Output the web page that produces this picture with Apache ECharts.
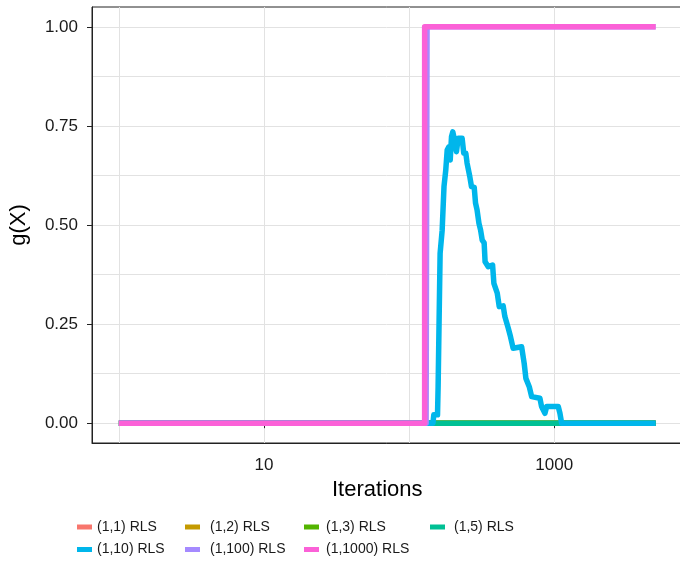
<!DOCTYPE html>
<html>
<head>
<meta charset="utf-8">
<script src="https://cdn.jsdelivr.net/npm/echarts@6/dist/echarts.min.js"></script>
<style>html,body{margin:0;padding:0;background:#fff}#c{width:680px;height:561px}</style>
</head>
<body>
<div id="c"></div>
<script>
// ---- data ----
const seriesNames = ['(1,1) RLS','(1,2) RLS','(1,3) RLS','(1,5) RLS','(1,10) RLS','(1,100) RLS','(1,1000) RLS'];
const seriesColors = ['#F8766D','#C49A00','#53B400','#00C094','#00B6EB','#A58AFF','#FB61D7'];

const x_1_1 = [1, 5000];           const y_1_1 = [0, 0];
const x_1_2 = [1, 5000];           const y_1_2 = [0, 0];
const x_1_3 = [1, 5000];           const y_1_3 = [0, 0];
const x_1_5 = [1, 5000];           const y_1_5 = [0, 0];
const x_1_10 = [1, 146, 148, 157, 158.5, 161, 163.6, 169, 174, 179, 183, 188, 192, 196, 200, 207, 212, 218, 232, 238, 246, 251, 259, 262, 269, 281, 287, 294, 303, 311, 319, 329, 334, 351, 360, 376, 384, 405, 418, 445, 457, 482, 500, 521, 596, 621, 638, 673, 699, 797, 818, 863, 887, 1066, 1095, 1125, 5000];
const y_1_10 = [0, 0, 0.021, 0.021, 0.092, 0.26, 0.429, 0.487, 0.597, 0.639, 0.689, 0.697, 0.664, 0.723, 0.735, 0.71, 0.685, 0.719, 0.719, 0.681, 0.681, 0.656, 0.656, 0.622, 0.597, 0.595, 0.555, 0.538, 0.504, 0.487, 0.462, 0.455, 0.407, 0.395, 0.399, 0.399, 0.353, 0.328, 0.294, 0.296, 0.269, 0.240, 0.218, 0.189, 0.193, 0.151, 0.113, 0.092, 0.067, 0.063, 0.042, 0.025, 0.042, 0.042, 0.025, 0, 0];
const x_1_100 = [1, 131, 133, 5000];  const y_1_100 = [0, 0, 1, 1];
const x_1_1000 = [1, 128, 128, 5000]; const y_1_1000 = [0, 0, 1, 1];

const xGridValues = [1, 10, 100, 1000];
const xLabelValues = [10, 1000];
const yGridValues = [0, 0.125, 0.25, 0.375, 0.5, 0.625, 0.75, 0.875, 1];
const yLabelValues = [0, 0.25, 0.5, 0.75, 1];

const allX = [x_1_1, x_1_2, x_1_3, x_1_5, x_1_10, x_1_100, x_1_1000];
const allY = [y_1_1, y_1_2, y_1_3, y_1_5, y_1_10, y_1_100, y_1_1000];

// ---- chart ----
const chart = echarts.init(document.getElementById('c'), null, {renderer: 'canvas'});
const FONT = 'Liberation Sans, Arial, sans-serif';
const xMin = Math.pow(10, -0.185), xMax = Math.pow(10, 3.884);

const series = seriesNames.map((n, i) => ({
  name: n, type: 'line', xAxisIndex: 0, yAxisIndex: 0,
  showSymbol: false, symbol: 'none',
  data: allX[i].map((x, j) => [x, allY[i][j]]),
  lineStyle: {width: 5.5, color: seriesColors[i], cap: 'butt', join: 'round'},
  itemStyle: {color: seriesColors[i]},
  z: 2 + i
}));

// legend: [iconLeft, rowCenterY, extra gap between icon and text]
const legendPos = [[77,527,0],[185,527,5],[304,527,2],[430,527,4],[77,549.5,0],[185,549.5,5],[304,549.5,2]];
const legends = seriesNames.map((n, i) => ({
  data: [n], left: legendPos[i][0], top: legendPos[i][1] - 8,
  itemWidth: 15, itemHeight: 5, icon: 'rect', padding: 0, selectedMode: false,
  textStyle: {fontFamily: FONT, fontSize: 14, color: '#1a1a1a', lineHeight: 16,
              padding: [0, 0, 0, legendPos[i][2]]}
}));

chart.setOption({
  animation: false,
  backgroundColor: '#fff',
  grid: {left: 92, width: 590.5, top: 7, bottom: 118, show: true, borderColor: '#222', borderWidth: 1,
         containLabel: false, outerBoundsMode: 'none'},
  legend: legends,
  xAxis: [{
    type: 'log', logBase: 10, min: xMin, max: xMax,
    name: 'Iterations', nameLocation: 'middle', nameGap: 34,
    nameTextStyle: {fontFamily: FONT, fontSize: 22, color: '#000', padding: [0, 20, 0, 0]},
    axisLine: {show: true, onZero: false, lineStyle: {color: '#222', width: 1}},
    axisTick: {show: false, customValues: xGridValues},
    axisLabel: {customValues: xLabelValues, fontFamily: FONT, fontSize: 17, color: '#1a1a1a', margin: 14,
      formatter: v => String(Math.round(v))},
    splitLine: {show: true, lineStyle: {color: '#E2E2E2', width: 1}}
  }, {
    type: 'log', logBase: 10, min: xMin, max: xMax, gridIndex: 0, position: 'bottom',
    axisLine: {show: false},
    axisTick: {show: true, customValues: xLabelValues, length: 5, lineStyle: {color: '#222'}},
    axisLabel: {show: false},
    splitLine: {show: false}
  }],
  yAxis: [{
    type: 'value', min: -0.05, max: 1.05,
    name: 'g(X)', nameLocation: 'middle', nameGap: 62, nameRotate: 90,
    nameTextStyle: {fontFamily: FONT, fontSize: 22, color: '#000'},
    axisLine: {show: true, lineStyle: {color: '#222', width: 1}},
    axisTick: {show: false, customValues: yGridValues},
    axisLabel: {customValues: yLabelValues, fontFamily: FONT, fontSize: 17, color: '#1a1a1a', margin: 14,
      formatter: v => v.toFixed(2)},
    splitLine: {show: true, lineStyle: {color: '#E2E2E2', width: 1}}
  }, {
    type: 'value', min: -0.05, max: 1.05, gridIndex: 0, position: 'left',
    axisLine: {show: false},
    axisTick: {show: true, customValues: yLabelValues, length: 5, lineStyle: {color: '#222'}},
    axisLabel: {show: false},
    splitLine: {show: false}
  }],
  series: series
});
</script>
</body>
</html>
